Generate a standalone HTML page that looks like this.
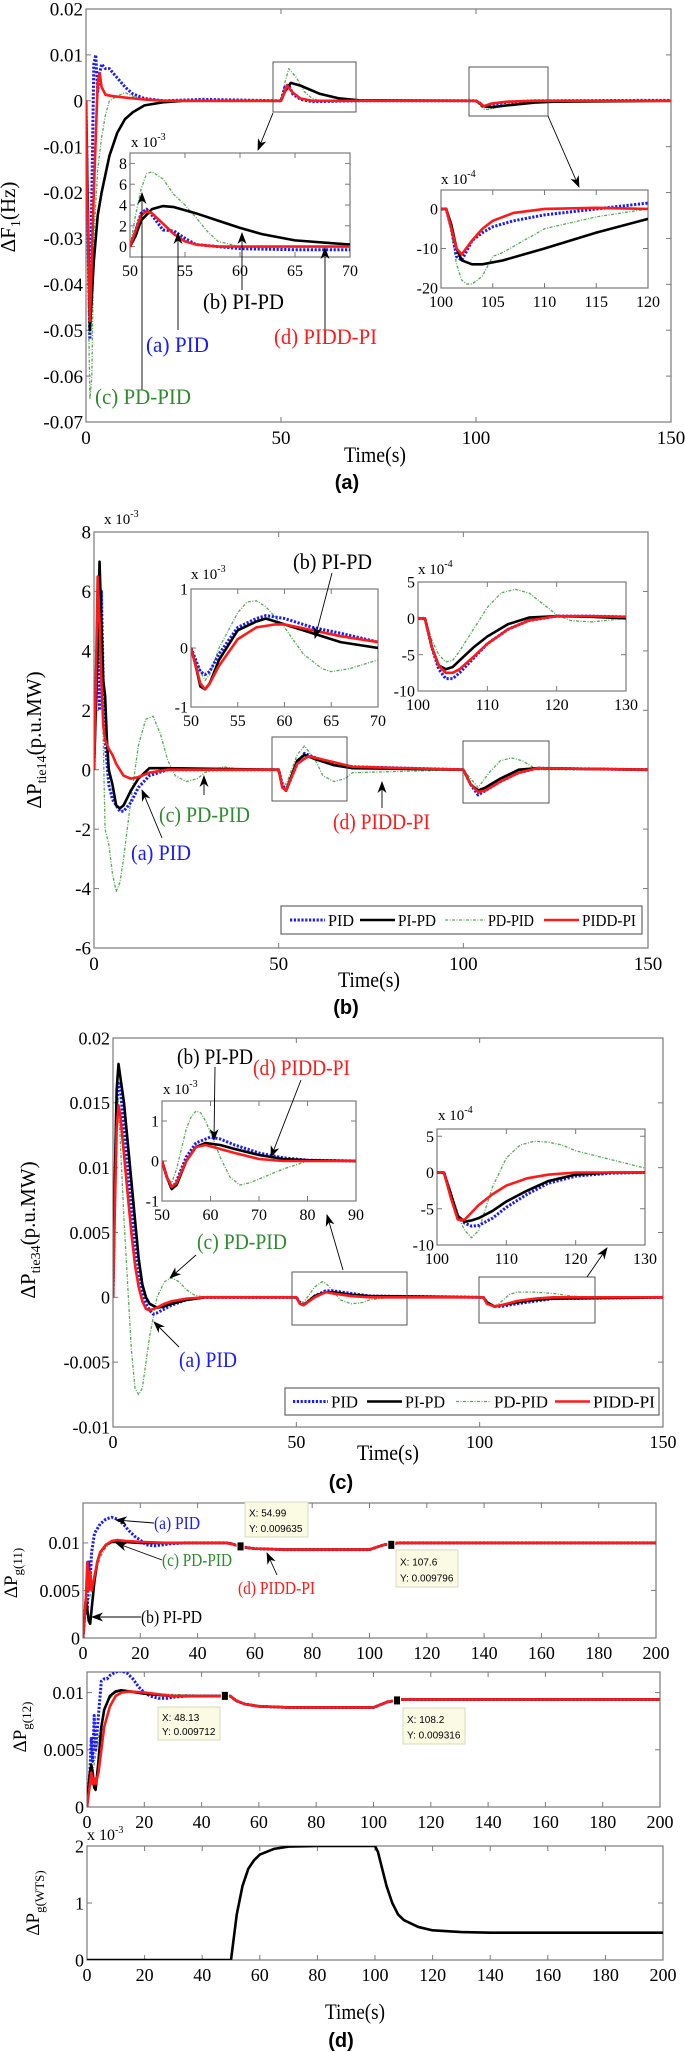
<!DOCTYPE html>
<html><head><meta charset="utf-8">
<style>
html,body{margin:0;padding:0;background:#fff;}
svg{display:block;font-family:"Liberation Serif",serif;}
.lbl{font-family:"Liberation Serif",serif;}
.cap{font-family:"Liberation Sans",sans-serif;font-weight:bold;font-size:20px;}
.tip{font-family:"Liberation Sans",sans-serif;font-size:10px;}
</style></head>
<body>
<svg id="fig" width="685" height="2052" viewBox="0 0 685 2052" xmlns="http://www.w3.org/2000/svg">
<defs>
<marker id="ah" markerWidth="12" markerHeight="10" refX="11" refY="5" orient="auto" markerUnits="userSpaceOnUse"><path d="M0,0.5 L12,5 L0,9.5 L3.5,5 z" fill="#000"/></marker>
</defs>
<rect x="0" y="0" width="685" height="2052" fill="#fff"/>
<g id="charts"></g>

<g class="lbl">
<text x="15" y="217" font-size="21" text-anchor="middle" transform="rotate(-90 15 217)">ΔF<tspan font-size="14" dy="5">1</tspan><tspan dy="-5">(Hz)</tspan></text>
<text x="375" y="462" font-size="22" text-anchor="middle" textLength="62" lengthAdjust="spacingAndGlyphs">Time(s)</text>
<text x="347" y="489" class="cap" text-anchor="middle">(a)</text>
<text x="131" y="147" font-size="15">x 10<tspan font-size="10" dy="-7">-3</tspan></text>
<text x="441" y="184" font-size="15">x 10<tspan font-size="10" dy="-7">-4</tspan></text>
<text x="203" y="309" font-size="22" textLength="81" lengthAdjust="spacingAndGlyphs" fill="#000">(b) PI-PD</text>
<text x="146" y="352" font-size="22" textLength="63" lengthAdjust="spacingAndGlyphs" fill="#1a1aff">(a) PID</text>
<text x="274" y="344" font-size="22" textLength="103" lengthAdjust="spacingAndGlyphs" fill="#ff1a1a">(d) PIDD-PI</text>
<text x="95" y="404" font-size="22" textLength="96" lengthAdjust="spacingAndGlyphs" fill="#2e8b2e">(c) PD-PID</text>
</g>

<g class="lbl">
<text x="41" y="740" font-size="21" text-anchor="middle" transform="rotate(-90 41 740)">ΔP<tspan font-size="14" dy="5">tie14</tspan><tspan dy="-5">(p.u.MW)</tspan></text>
<text x="104" y="524" font-size="15">x 10<tspan font-size="10" dy="-7">-3</tspan></text>
<text x="191" y="579" font-size="15">x 10<tspan font-size="10" dy="-7">-3</tspan></text>
<text x="418" y="574" font-size="15">x 10<tspan font-size="10" dy="-7">-4</tspan></text>
<text x="369" y="987" font-size="22" text-anchor="middle" textLength="62" lengthAdjust="spacingAndGlyphs">Time(s)</text>
<text x="346" y="1014" class="cap" text-anchor="middle">(b)</text>
<text x="293" y="569" font-size="22" textLength="79" lengthAdjust="spacingAndGlyphs">(b) PI-PD</text>
<text x="159" y="822" font-size="22" textLength="91" lengthAdjust="spacingAndGlyphs" fill="#2e8b2e">(c) PD-PID</text>
<text x="131" y="860" font-size="22" textLength="60" lengthAdjust="spacingAndGlyphs" fill="#1a1aff">(a) PID</text>
<text x="333" y="829" font-size="22" textLength="97" lengthAdjust="spacingAndGlyphs" fill="#ff1a1a">(d) PIDD-PI</text>
</g>

<g class="lbl">
<text x="35" y="1230" font-size="21" text-anchor="middle" transform="rotate(-90 35 1230)">ΔP<tspan font-size="14" dy="5">tie34</tspan><tspan dy="-5">(p.u.MW)</tspan></text>
<text x="163" y="1094" font-size="15">x 10<tspan font-size="10" dy="-7">-3</tspan></text>
<text x="438" y="1120" font-size="15">x 10<tspan font-size="10" dy="-7">-4</tspan></text>
<text x="388" y="1460" font-size="22" text-anchor="middle" textLength="62" lengthAdjust="spacingAndGlyphs">Time(s)</text>
<text x="341" y="1489" class="cap" text-anchor="middle">(c)</text>
<text x="177" y="1064" font-size="22" textLength="76" lengthAdjust="spacingAndGlyphs">(b) PI-PD</text>
<text x="253" y="1075" font-size="22" textLength="97" lengthAdjust="spacingAndGlyphs" fill="#ff1a1a">(d) PIDD-PI</text>
<text x="197" y="1249" font-size="22" textLength="90" lengthAdjust="spacingAndGlyphs" fill="#2e8b2e">(c) PD-PID</text>
<text x="179" y="1367" font-size="22" textLength="58" lengthAdjust="spacingAndGlyphs" fill="#1a1aff">(a) PID</text>
</g>

<g class="lbl">
<text x="17" y="1573" font-size="19" text-anchor="middle" transform="rotate(-90 17 1573)">ΔP<tspan font-size="13" dy="5">g(11)</tspan></text>
<text x="26" y="1727" font-size="19" text-anchor="middle" transform="rotate(-90 26 1727)">ΔP<tspan font-size="13" dy="5">g(12)</tspan></text>
<text x="39" y="1903" font-size="19" text-anchor="middle" transform="rotate(-90 39 1903)">ΔP<tspan font-size="13" dy="5">g(WTS)</tspan></text>
<text x="87" y="1840" font-size="16">x 10<tspan font-size="10" dy="-7">-3</tspan></text>
<text x="355" y="2019" font-size="22" text-anchor="middle" textLength="60" lengthAdjust="spacingAndGlyphs">Time(s)</text>
<text x="341" y="2047" class="cap" text-anchor="middle">(d)</text>
<text x="154" y="1529" font-size="18" textLength="46" lengthAdjust="spacingAndGlyphs" fill="#1a1aff">(a) PID</text>
<text x="162" y="1566" font-size="18" textLength="70" lengthAdjust="spacingAndGlyphs" fill="#2e8b2e">(c) PD-PID</text>
<text x="238" y="1594" font-size="18" textLength="77" lengthAdjust="spacingAndGlyphs" fill="#ff1a1a">(d) PIDD-PI</text>
<text x="141" y="1623" font-size="18" textLength="61" lengthAdjust="spacingAndGlyphs">(b) PI-PD</text>
</g>
</svg>

<script>
const aPidT=[0,0.5,1,1.5,2,2.5,3,3.5,4,5,6,7,8,10,12,15,20,30,50,51,52,53,55,58,70,100,101,102,104,108,115,150];
const aPidV=[0,-0.03,-0.052,-0.02,0.008,0.010,0.002,0.006,0.008,0.007,0.007,0.006,0.005,0.003,0.0015,0.0005,0,0.0003,0,0.003,0.0035,0.0015,0.0003,-0.0002,0,0,-0.0005,-0.0013,-0.0008,-0.0003,0,0.0001];
const aRedT=[0,0.3,1,2,3,3.5,4,5,7,10,15,20,50,51,51.5,53,55,58,70,100,101.5,102,104,108,115,150];
const aRedV=[0,-0.02,-0.048,-0.02,0.004,0.006,0.003,0.0013,0.001,0.0007,0.0003,0,0,0.002,0.0034,0.0018,0.0005,0,0,0,-0.0008,-0.0012,-0.0006,-0.0002,0,0];
const aBlkT=[0,1,2,3,4,5,6,8,10,12,15,20,25,50,51,52.5,55,60,65,70,100,102,104,108,115,120,150];
const aBlkV=[0,-0.05,-0.035,-0.025,-0.02,-0.016,-0.012,-0.007,-0.004,-0.0025,-0.001,-0.0003,0,0,0.002,0.0039,0.0033,0.0015,0.0005,0.0001,0,-0.0012,-0.0014,-0.001,-0.0004,-0.0002,0];
const aGrnT=[0,0.5,1,1.5,2,3,4,5,6,8,10,12,15,20,50,51,52,54,56,58,60,70,100,101,102,103,105,110,120,150];
const aGrnV=[0,-0.04,-0.065,-0.06,-0.03,-0.015,-0.008,-0.003,0,0.001,0.0018,0.001,0.0003,0,0,0.004,0.007,0.005,0.002,0.0005,0,0,0,-0.001,-0.0018,-0.0019,-0.0015,-0.0007,0,0];
const aYTicks=[-0.07,-0.06,-0.05,-0.04,-0.03,-0.02,-0.01,0,0.01,0.02];
const aYLabels=['-0.07','-0.06','-0.05','-0.04','-0.03','-0.02','-0.01','0','0.01','0.02'];
const xTicks150=[0,50,100,150];
const xLabels150=['0','50','100','150'];
const a1PidT=[50,50.5,51,51.5,52,53,54,55,56,58,60,65,70];
const a1PidV=[0,1.5,3.2,3.6,3,1.6,1.5,0.8,0.2,0,-0.2,-0.3,-0.3];
const a1RedT=[50,50.5,51,51.5,52,53,54,55,56,58,60,70];
const a1RedV=[0,1.5,3,3.4,3.2,2.2,1.2,0.5,0.2,0,0,0];
const a1BlkT=[50,50.5,51,52,53,54,56,58,60,62,65,70];
const a1BlkV=[0,1,2.5,3.6,3.9,3.8,3.2,2.5,1.8,1.2,0.6,0.2];
const a1GrnT=[50,50.5,51,51.5,52,53,54,55,56,57,58,60,70];
const a1GrnV=[0,3,5.5,7,7.2,6.5,5,4,2.8,1.5,0.5,0,0];
const a1XTicks=[50,55,60,65,70];
const a1YTicks=[0,2,4,6,8];
const a2PidT=[100,100.5,101,101.5,102,103,104,105,107,110,115,120];
const a2PidV=[0,0,-5,-12,-13,-8,-6,-4.5,-3,-1.5,0,1.5];
const a2RedT=[100,100.5,101,101.5,102,103,104,105,107,110,115,120];
const a2RedV=[0,0,-5,-10,-11.5,-8,-5,-3,-1,0,0.3,0];
const a2BlkT=[100,100.5,101,101.5,102,103,104,106,110,115,120];
const a2BlkV=[0,0,-4,-10,-13,-14,-14,-13,-10,-6,-2.5];
const a2GrnT=[100,100.5,101,101.5,102,102.5,103,104,105,106,108,110,115,120];
const a2GrnV=[0,0,-6,-14,-18,-19,-19,-17,-12,-11,-8,-5,-2,0];
const a2XTicks=[100,105,110,115,120];
const a2YTicks=[-20,-10,0];

const bPidT=[0,0.5,1,1.5,2,2.5,3,4,5,6,7,8,10,12,15,20,25,50,51,52,55,57,60,65,70,100,102,104,106,110,115,120,150];
const bPidV=[0,3,4.5,2,6,3,1,-0.5,-1,-1.2,-1.4,-1.4,-1.1,-0.6,-0.2,0,0,0,-0.5,-0.7,0.2,0.55,0.4,0.2,0.1,0,-0.5,-0.85,-0.7,-0.4,-0.1,0.05,0];
const bBlkT=[0,1,1.5,2,2.5,3,3.5,4,5,6,7,8,10,12,15,20,50,51,52,55,57,60,65,70,100,102,104,106,110,115,120,150];
const bBlkV=[0,4,7,5,3,2.5,1,0,-0.5,-1.2,-1.3,-1.2,-0.7,-0.3,0.05,0.05,0,-0.6,-0.7,0.3,0.5,0.35,0.15,0.05,0,-0.5,-0.7,-0.6,-0.3,0,0.05,0];
const bRedT=[0,0.5,1,1.5,2,2.5,3,4,5,6,8,10,12,15,20,50,51,52,55,58,60,65,70,100,102,104,106,110,115,120,150];
const bRedV=[0,3,6.5,5,3,1.5,1,0.7,0.5,0.2,-0.2,-0.3,-0.25,-0.1,0,0,-0.6,-0.7,0.2,0.45,0.4,0.25,0.1,0,-0.5,-0.75,-0.7,-0.4,-0.1,0.05,0];
const bGrnT=[0,1,1.5,2,2.5,3,4,5,6,7,8,10,12,14,16,18,20,22,25,28,30,35,40,50,51,52,55,57,60,62,65,68,70,100,102,104,107,110,113,116,120,150];
const bGrnV=[0,5,7,4,1,-2,-2.5,-3.5,-4.1,-3.8,-3,-1,0.8,1.7,1.8,1.2,0.3,-0.2,-0.4,-0.3,-0.1,0.1,0,0,-0.4,-0.5,0.5,0.8,0.3,-0.2,-0.4,-0.3,-0.1,0,-0.3,-0.6,-0.1,0.3,0.4,0.3,0,0];
const bYTicks=[-6,-4,-2,0,2,4,6,8];
const bYLabels=['-6','-4','-2','0','2','4','6','8'];
const b1PidT=[50,50.5,51,51.5,52,53,55,57,58,60,63,66,70];
const b1PidV=[0,-0.2,-0.4,-0.45,-0.4,-0.1,0.35,0.5,0.55,0.5,0.35,0.25,0.1];
const b1BlkT=[50,50.5,51,51.5,52,53,55,57,58,60,63,66,70];
const b1BlkV=[0,-0.3,-0.65,-0.7,-0.6,-0.2,0.3,0.45,0.5,0.4,0.25,0.1,0];
const b1RedT=[50,50.5,51,51.5,52,53,55,57,59,60,63,66,70];
const b1RedV=[0,-0.3,-0.6,-0.7,-0.6,-0.3,0.15,0.35,0.4,0.4,0.3,0.2,0.1];
const b1GrnT=[50,50.5,51,51.5,52,53,55,56,57,58,60,62,64,65,67,70];
const b1GrnV=[0,-0.2,-0.4,-0.55,-0.45,0,0.6,0.78,0.8,0.7,0.35,-0.1,-0.35,-0.4,-0.35,-0.2];
const b2PidT=[100,101,102,103,104,105,106,108,110,113,116,120,125,130];
const b2PidV=[0,0,-4,-7,-8.3,-8.3,-7.5,-5.5,-3.5,-1.5,-0.3,0.3,0.3,0.2];
const b2BlkT=[100,101,102,103,104,105,106,108,110,113,116,120,125,130];
const b2BlkV=[0,0,-4,-6.5,-7,-6.7,-5.8,-4,-2.5,-0.8,0.1,0.3,0.2,0];
const b2RedT=[100,101,102,103,104,105,106,108,110,113,116,120,125,130];
const b2RedV=[0,0,-4,-6.5,-7.5,-7.5,-7,-5.3,-3.5,-1.5,-0.3,0.3,0.3,0.2];
const b2GrnT=[100,101,102,103,104,105,106,108,110,112,114,116,118,120,122,125,130];
const b2GrnV=[0,0,-3,-5,-6,-5.8,-4.5,-1.5,1.5,3.5,4,3.5,2,0.5,-0.3,-0.5,0];

const cPidT=[0,0.5,1,1.5,2,3,4,5,6,7,8,9,10,11,12,14,16,20,25,30,50,51,52,55,58,60,65,70,100,101,102,104,106,110,115,120,150];
const cPidV=[0,0.008,0.015,0.0165,0.016,0.013,0.01,0.007,0.004,0.002,0.0005,-0.0005,-0.001,-0.0013,-0.0012,-0.0009,-0.0006,-0.0002,0,0,0,-0.0004,-0.0006,0.0001,0.0005,0.0005,0.0003,0.0001,0,0,-0.0004,-0.0007,-0.0007,-0.0005,-0.0003,-0.0001,0];
const cBlkT=[0,0.5,1,1.5,2,3,4,5,6,7,8,9,10,12,14,16,20,25,30,50,51,52,55,58,60,65,70,100,101,102,104,106,110,115,120,150];
const cBlkV=[0,0.009,0.016,0.018,0.017,0.015,0.012,0.009,0.006,0.003,0.001,0,-0.0005,-0.0008,-0.0007,-0.0005,-0.0002,0,0,0,-0.0005,-0.0006,0.0001,0.0004,0.0004,0.0002,0.0001,0,0,-0.0004,-0.0007,-0.0006,-0.0004,-0.0002,-0.0001,0];
const cRedT=[0,0.5,1,1.5,2,3,4,5,6,7,8,9,10,12,14,16,20,25,50,51,52,55,58,60,65,70,100,101,102,104,106,110,115,120,150];
const cRedV=[0,0.007,0.013,0.0148,0.014,0.011,0.008,0.005,0.0025,0.0008,-0.0003,-0.0009,-0.001,-0.0008,-0.0005,-0.0003,-0.0001,0,0,-0.0005,-0.0006,0,0.0004,0.0003,0.0001,0,0,0,-0.0005,-0.0007,-0.0006,-0.0003,-0.0001,0,0];
const cGrnT=[0,0.5,1,1.5,2,3,4,5,6,7,8,9,10,12,14,16,18,20,22,25,30,50,51,52,53,55,57,58,60,62,65,68,70,75,80,100,101,102,104,106,108,110,115,120,125,130,150];
const cGrnV=[0,0.01,0.016,0.015,0.012,0.006,0.001,-0.004,-0.007,-0.0075,-0.007,-0.005,-0.003,0,0.0012,0.0015,0.0012,0.0006,0.0002,0,0,0,-0.0003,-0.0004,0,0.0008,0.0012,0.0011,0.0005,-0.0002,-0.0005,-0.0004,-0.0002,0,0,0,0,-0.0003,-0.0008,-0.0003,0.0002,0.0004,0.0004,0.0003,0.0001,0,0];
const cYTicks=[-0.01,-0.005,0,0.005,0.01,0.015,0.02];
const cYLabels=['-0.01','-0.005','0','0.005','0.01','0.015','0.02'];
const c1PidT=[50,51,52,53,55,57,60,62,65,70,75,80,90];
const c1PidV=[0,-0.4,-0.7,-0.5,0.1,0.45,0.6,0.55,0.4,0.2,0.08,0.02,0];
const c1BlkT=[50,51,52,53,55,57,59,62,65,70,75,80,90];
const c1BlkV=[0,-0.4,-0.7,-0.6,0,0.35,0.45,0.4,0.3,0.15,0.05,0.02,0];
const c1RedT=[50,51,52,53,55,57,59,62,65,70,75,90];
const c1RedV=[0,-0.4,-0.65,-0.55,0,0.35,0.4,0.3,0.2,0.05,0,0];
const c1GrnT=[50,51,52,53,54,55,56,57,58,59,60,62,64,66,68,70,75,80,85,90];
const c1GrnV=[0,-0.4,-0.55,-0.2,0.3,0.8,1.1,1.25,1.2,1.0,0.7,0.1,-0.4,-0.6,-0.55,-0.45,-0.2,0,0,0];
const c2PidT=[100,101,102,103,104,105,106,108,110,113,116,120,125,130];
const c2PidV=[0,0,-3,-6,-7,-7.4,-7.3,-6.3,-4.8,-3,-1.5,-0.5,-0.1,0];
const c2BlkT=[100,101,102,103,104,105,106,108,110,113,116,120,125,130];
const c2BlkV=[0,0,-3,-6,-6.8,-6.6,-6.3,-5.3,-4,-2.5,-1.2,-0.3,0,0];
const c2RedT=[100,101,102,103,104,105,106,108,110,113,116,120,125,130];
const c2RedV=[0,0,-3.5,-6.5,-6.5,-5.5,-4.5,-3,-1.8,-0.8,-0.3,0,0,0];
const c2GrnT=[100,101,102,103,104,105,106,107,108,110,112,114,116,118,120,125,130];
const c2GrnV=[0,0,-3,-6,-8,-9,-8,-5,-2,2,3.8,4.3,4.2,3.8,3,1.8,0.6];

const d1PidT=[0,1,1.5,2,2.5,3,4,5,6,8,10,12,14,16,18,20,22,25,28,30,35,40,50,52,55,60,70,80,90,100,102,105,108,110,120,150,200];
const d1PidV=[0,0.004,0.003,0.008,0.006,0.009,0.011,0.0115,0.012,0.0125,0.0127,0.0125,0.012,0.0113,0.0107,0.0103,0.0098,0.0097,0.0098,0.0099,0.01,0.01,0.01,0.0099,0.0096,0.0094,0.0093,0.0093,0.0093,0.0093,0.0095,0.0098,0.0099,0.01,0.01,0.01,0.01];
const d1BlkT=[0,1,1.5,2,2.5,3,4,5,6,8,10,12,15,20,30,50,52,55,60,70,100,102,105,108,110,150,200];
const d1BlkV=[0,0.004,0.003,0.0018,0.0015,0.003,0.006,0.008,0.009,0.0098,0.0101,0.0101,0.0101,0.01,0.01,0.01,0.0099,0.0096,0.0094,0.0093,0.0093,0.0095,0.0098,0.0099,0.01,0.01,0.01];
const d1GrnT=[0,1,2,3,4,5,6,8,10,12,15,20,50,55,60,100,105,110,200];
const d1GrnV=[0,0.003,0.004,0.005,0.006,0.0075,0.0085,0.0095,0.0102,0.0102,0.0101,0.01,0.01,0.0096,0.0094,0.0093,0.0098,0.01,0.01];
const d1RedT=[0,1,1.5,2,2.5,3,4,5,6,8,10,12,15,20,30,50,52,55,60,70,100,102,105,108,110,150,200];
const d1RedV=[0,0.004,0.008,0.005,0.007,0.005,0.0065,0.008,0.009,0.0098,0.0102,0.0103,0.0102,0.0101,0.01,0.01,0.0099,0.0096,0.0094,0.0093,0.0093,0.0095,0.0098,0.0099,0.01,0.01,0.01];
const d2PidT=[0,1,1.5,2,2.5,3,4,5,6,7,8,10,12,14,16,18,20,22,25,28,30,35,40,45,48,50,52,55,60,70,80,100,102,105,108,110,150,200];
const d2PidV=[0,0.003,0.006,0.004,0.008,0.005,0.008,0.011,0.0112,0.0112,0.0115,0.0118,0.0119,0.0117,0.0112,0.0105,0.01,0.0097,0.0095,0.0095,0.0096,0.0097,0.0097,0.0097,0.0097,0.0097,0.0093,0.009,0.0088,0.0087,0.0087,0.0087,0.0089,0.0092,0.0093,0.0094,0.0094,0.0094];
const d2BlkT=[0,1,1.5,2,2.5,3,4,5,6,8,10,12,15,20,30,48,50,52,55,60,70,100,102,105,108,110,150,200];
const d2BlkV=[0,0.003,0.0037,0.003,0.0017,0.0015,0.004,0.007,0.0085,0.0097,0.0101,0.0102,0.0101,0.0099,0.0097,0.0097,0.0097,0.0093,0.009,0.0088,0.0087,0.0087,0.0089,0.0092,0.0093,0.0094,0.0094,0.0094];
const d2GrnT=[0,2,4,6,8,10,12,15,20,50,55,60,100,105,110,200];
const d2GrnV=[0,0.003,0.006,0.0085,0.0095,0.01,0.0101,0.0101,0.0099,0.0097,0.009,0.0088,0.0087,0.0092,0.0094,0.0094];
const d2RedT=[0,1,1.5,2,2.5,3,4,5,6,8,10,12,15,20,30,48,50,52,55,60,70,100,102,105,108,110,150,200];
const d2RedV=[0,0.002,0.003,0.002,0.0025,0.002,0.003,0.005,0.007,0.0088,0.0097,0.01,0.0101,0.01,0.0097,0.0097,0.0097,0.0093,0.009,0.0088,0.0087,0.0087,0.0089,0.0092,0.0093,0.0094,0.0094,0.0094];
const d3T=[0,50,51,52,54,56,58,60,65,70,80,100,101,102,104,106,108,110,115,120,130,140,200];
const d3V=[0,0,0.4,0.8,1.3,1.6,1.75,1.85,1.95,1.99,2,2,1.9,1.7,1.3,1.0,0.8,0.7,0.58,0.52,0.49,0.48,0.48];
const xTicks200=[0,20,40,60,80,100,120,140,160,180,200];
const dYTicks=[0,0.005,0.01];
const dYLabels=['0','0.005','0.01'];
const d3YTicks=[0,1,2];
const tipX=[54.99,107.6,48.13,108.2];
const tipY=[0.009635,0.009796,0.009712,0.009316];

const NS='http://www.w3.org/2000/svg';
const root=document.getElementById('charts');
let clipN=0;
function mk(tag,attrs,parent){const e=document.createElementNS(NS,tag);for(const k in attrs)e.setAttribute(k,attrs[k]);parent.appendChild(e);return e;}
const ST={
 pid:{stroke:'#1a1aff',w:3,dash:'2.2,1.6'},
 pipd:{stroke:'#000',w:2.6,dash:''},
 pdpid:{stroke:'#55aa55',w:1.3,dash:'3,1.5,1,1.5'},
 piddpi:{stroke:'#ff1a1a',w:2.6,dash:''}
};
function fmt(v){return String(+v.toFixed(6));}
function makeAxes(name,L,T,R,B,xd,yd,xt,xl,yt,yl,fs){
 const g=mk('g',{},root);
 
 
 const sx=v=>L+(v-xd[0])/(xd[1]-xd[0])*(R-L);
 const sy=v=>B-(v-yd[0])/(yd[1]-yd[0])*(B-T);
 const bg=mk('rect',{x:L,y:T,width:R-L,height:B-T,fill:'#fff',stroke:'#7a7a7a','stroke-width':1.2},g);
 
 
 xt.forEach((v,i)=>{
  const x=sx(v);
  const t1=mk('line',{x1:x,y1:B,x2:x,y2:B-5,stroke:'#7a7a7a','stroke-width':1},g);
  
  
  const t2=mk('line',{x1:x,y1:T,x2:x,y2:T+5,stroke:'#7a7a7a','stroke-width':1},g);
  
  
  const tx=mk('text',{x:x,y:B+fs+3,'font-size':fs,'text-anchor':'middle'},g);
  tx.textContent=xl?xl[i]:fmt(v);
  
  
 });
 yt.forEach((v,i)=>{
  const y=sy(v);
  const t1=mk('line',{x1:L,y1:y,x2:L+5,y2:y,stroke:'#7a7a7a','stroke-width':1},g);
  
  
  const t2=mk('line',{x1:R,y1:y,x2:R-5,y2:y,stroke:'#7a7a7a','stroke-width':1},g);
  
  
  const tx=mk('text',{x:L-3,y:y+fs*0.35,'font-size':fs,'text-anchor':'end'},g);
  tx.textContent=yl?yl[i]:fmt(v);
  
  
 });
 const id='clip'+(clipN++);
 const cp=mk('clipPath',{id:id},g);
 mk('rect',{x:L,y:T,width:R-L,height:B-T},cp);
 return {g,sx,sy,id,L,T,R,B};
}
function series(ax,xs,ys,st,name){
 let d='';
 for(let i=0;i<xs.length;i++){d+=(i?'L':'M')+ax.sx(xs[i]).toFixed(2)+','+ax.sy(ys[i]).toFixed(2);}
 const p=mk('path',{d:d,fill:'none',stroke:st.stroke,'stroke-width':st.w,'stroke-linejoin':'round','clip-path':'url(#'+ax.id+')'},ax.g);
 if(st.dash)p.setAttribute('stroke-dasharray',st.dash);
 
 
 return p;
}
function four(ax,g,b,k,r,prefix){
 series(ax,g[0],g[1],ST.pdpid,prefix+'-pd-pid-line');
 series(ax,b[0],b[1],ST.pid,prefix+'-pid-line');
 series(ax,k[0],k[1],ST.pipd,prefix+'-pi-pd-line');
 series(ax,r[0],r[1],ST.piddpi,prefix+'-pidd-pi-line');
}
function box(x1,y1,x2,y2,name){
 const r=mk('rect',{x:x1,y:y1,width:x2-x1,height:y2-y1,fill:'none',stroke:'#555','stroke-width':1},root);
 
 
}
function arrow(x1,y1,x2,y2,name,w){
 const l=mk('line',{x1:x1,y1:y1,x2:x2,y2:y2,stroke:'#000','stroke-width':w||0.9,'marker-end':'url(#ah)'},root);
 
 
}
function legend(x1,y1,x2,y2,items,name){
 const g=mk('g',{},root);
 
 
 mk('rect',{x:x1,y:y1,width:x2-x1,height:y2-y1,fill:'#fff',stroke:'#666','stroke-width':1.2},g);
 const cy=(y1+y2)/2;
 items.forEach(it=>{
  const ln=mk('line',{x1:it[0],y1:cy,x2:it[1],y2:cy,stroke:it[3].stroke,'stroke-width':it[3].w},g);
  if(it[3].dash)ln.setAttribute('stroke-dasharray',it[3].dash);
  
  
  const t=mk('text',{x:it[1]+3,y:cy+6,'font-size':17,textLength:it[4],lengthAdjust:'spacingAndGlyphs'},g);
  t.textContent=it[2];
  
  
 });
}
function tip(ax,i,bx,by,bw,bh,name){
 const g=mk('g',{},root);
 
 
 mk('rect',{x:bx,y:by,width:bw,height:bh,fill:'#fbfbe4',stroke:'#d8d8c0','stroke-width':1},g);
 const t1=mk('text',{x:bx+4,y:by+bh*0.42,class:'tip'},g);
 t1.textContent='X: '+tipX[i];
 const t2=mk('text',{x:bx+4,y:by+bh*0.85,class:'tip'},g);
 t2.textContent='Y: '+tipY[i];
 const m=mk('rect',{x:ax.sx(tipX[i])-3.5,y:ax.sy(tipY[i])-4.5,width:7,height:9,fill:'#000',stroke:'#fbfbe4','stroke-width':1},g);
 
 
}

const A=makeAxes('plot-a',86,9,671,422,[0,150],[-0.07,0.02],xTicks150,xLabels150,aYTicks,aYLabels,19);
four(A,[aGrnT,aGrnV],[aPidT,aPidV],[aBlkT,aBlkV],[aRedT,aRedV],'a');
box(273,62,356,112,'zoom-box-a1');
box(469,67,548,116,'zoom-box-a2');
arrow(273,113,258,150,'zoom-arrow-a1');
arrow(548,116,579,187,'zoom-arrow-a2');
const A1=makeAxes('inset-a1',130,153,350,257,[50,70],[-1,9],a1XTicks,null,a1YTicks,null,16);
four(A1,[a1GrnT,a1GrnV],[a1PidT,a1PidV],[a1BlkT,a1BlkV],[a1RedT,a1RedV],'a1');
const A2=makeAxes('inset-a2',441,190,648,288,[100,120],[-20,4.8],a2XTicks,null,a2YTicks,null,16);
four(A2,[a2GrnT,a2GrnV],[a2PidT,a2PidV],[a2BlkT,a2BlkV],[a2RedT,a2RedV],'a2');
arrow(142,390,142,193,'pointer-pdpid-a');
arrow(178,330,178,233,'pointer-pid-a');
arrow(242,290,242,233,'pointer-pipd-a');
arrow(325,333,325,248,'pointer-piddpi-a');

const Bx=makeAxes('plot-b',94,532,648,948,[0,150],[-6,8],xTicks150,xLabels150,bYTicks,bYLabels,19);
four(Bx,[bGrnT,bGrnV],[bPidT,bPidV],[bBlkT,bBlkV],[bRedT,bRedV],'b');
box(272,737,347,801,'zoom-box-b1');
box(463,741,549,803,'zoom-box-b2');
const B1=makeAxes('inset-b1',191,589,378,707,[50,70],[-1,1],a1XTicks,null,[-1,0,1],null,16);
four(B1,[b1GrnT,b1GrnV],[b1PidT,b1PidV],[b1BlkT,b1BlkV],[b1RedT,b1RedV],'b1');
const B2=makeAxes('inset-b2',418,582,626,691,[100,130],[-10,5],[100,110,120,130],null,[-10,-5,0,5],null,16);
four(B2,[b2GrnT,b2GrnV],[b2PidT,b2PidV],[b2BlkT,b2BlkV],[b2RedT,b2RedV],'b2');
arrow(332,573,315,638,'pointer-pipd-b');
arrow(204,795,204,776,'pointer-pdpid-b');
arrow(162,838,142,790,'pointer-pid-b');
arrow(382,808,382,782,'pointer-piddpi-b');
legend(281,906,642,934,[[290,325,'PID',ST.pid,26],[360,395,'PI-PD',ST.pipd,38],[445,485,'PD-PID',ST.pdpid,46],[544,579,'PIDD-PI',ST.piddpi,54]],'legend-b');

const C=makeAxes('plot-c',113,1038,663,1427,[0,150],[-0.01,0.02],xTicks150,xLabels150,cYTicks,cYLabels,18);
four(C,[cGrnT,cGrnV],[cPidT,cPidV],[cBlkT,cBlkV],[cRedT,cRedV],'c');
box(292,1272,407,1325,'zoom-box-c1');
box(479,1277,595,1323,'zoom-box-c2');
arrow(343,1270,327,1215,'zoom-arrow-c1');
arrow(587,1277,607,1248,'zoom-arrow-c2');
const C1=makeAxes('inset-c1',162,1101,356,1201,[50,90],[-1,1.5],[50,60,70,80,90],null,[-1,0,1],null,16);
four(C1,[c1GrnT,c1GrnV],[c1PidT,c1PidV],[c1BlkT,c1BlkV],[c1RedT,c1RedV],'c1');
const C2=makeAxes('inset-c2',437,1129,645,1245,[100,130],[-10,6],[100,110,120,130],null,[-10,-5,0,5],null,16);
four(C2,[c2GrnT,c2GrnV],[c2PidT,c2PidV],[c2BlkT,c2BlkV],[c2RedT,c2RedV],'c2');
arrow(215,1067,214,1140,'pointer-pipd-c');
arrow(301,1080,271,1157,'pointer-piddpi-c');
arrow(196,1255,170,1278,'pointer-pdpid-c');
arrow(179,1347,154,1322,'pointer-pid-c');
legend(285,1388,659,1415,[[293,328,'PID',ST.pid,27],[367,402,'PI-PD',ST.pipd,40],[456,491,'PD-PID',ST.pdpid,54],[555,590,'PIDD-PI',ST.piddpi,62]],'legend-c');

const D1=makeAxes('plot-d1',83,1503,656,1638,[0,200],[0,0.0142],xTicks200,null,dYTicks,dYLabels,18);
four(D1,[d1GrnT,d1GrnV],[d1PidT,d1PidV],[d1BlkT,d1BlkV],[d1RedT,d1RedV],'d1');
const D2=makeAxes('plot-d2',87,1672,660,1807,[0,200],[0,0.0118],xTicks200,null,dYTicks,dYLabels,18);
four(D2,[d2GrnT,d2GrnV],[d2PidT,d2PidV],[d2BlkT,d2BlkV],[d2RedT,d2RedV],'d2');
const D3=makeAxes('plot-d3',87,1846,663,1960,[0,200],[0,2],xTicks200,null,d3YTicks,null,18);
series(D3,d3T,d3V,ST.pipd,'d3-wts-line');
tip(D1,0,245,1502,63,35,'datatip-d1-a');
tip(D1,1,396,1550,62,37,'datatip-d1-b');
tip(D2,2,158,1707,62,33,'datatip-d2-a');
tip(D2,3,403,1708,62,36,'datatip-d2-b');
arrow(154,1523,116,1520,'pointer-pid-d');
arrow(162,1560,116,1543,'pointer-pdpid-d');
arrow(277,1575,267,1553,'pointer-piddpi-d');
arrow(141,1617,92,1617,'pointer-pipd-d');
</script>
</body></html>
